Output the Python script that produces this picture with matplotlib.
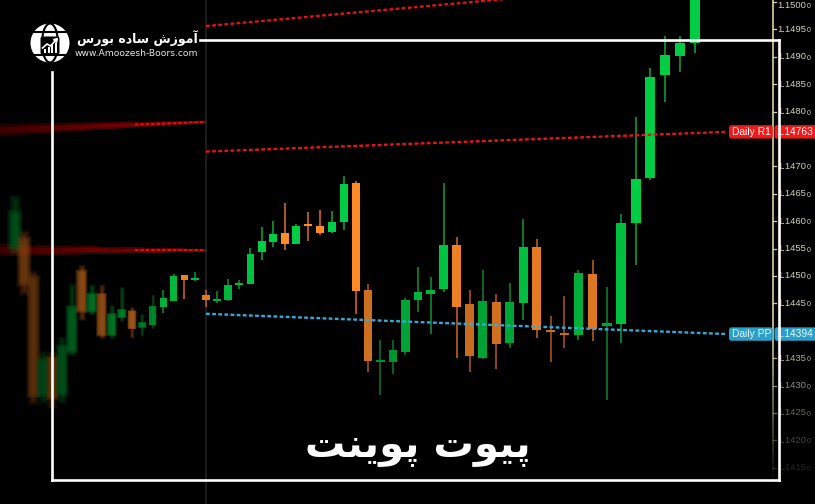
import numpy as np
import matplotlib
matplotlib.use("Agg")
import matplotlib.pyplot as plt
from matplotlib.patches import FancyBboxPatch, Circle, Ellipse, Rectangle, Polygon
from matplotlib.lines import Line2D
from matplotlib.collections import LineCollection
from matplotlib.transforms import Affine2D

# ---------------- data ----------------
candle_index = list(range(-19, 39))
opens = [1.14557, 1.14563, 1.14493, 1.14286, 1.14347, 1.14287, 1.14365, 1.14506, 1.14438, 1.14465,
         1.14394, 1.14426, 1.14435, 1.14407, 1.14411, 1.14444, 1.14455, 1.14501, 1.14493,
         1.14466, 1.14455, 1.14456, 1.14484, 1.14486, 1.14543, 1.14562, 1.14578, 1.14559, 1.14595,
         1.14592, 1.14580, 1.14599, 1.14669, 1.14474, 1.14344, 1.14343, 1.14361, 1.14456, 1.14468,
         1.14476, 1.14557, 1.14448, 1.14351, 1.14452, 1.14377, 1.14450, 1.14553, 1.14401, 1.14396,
         1.14393, 1.14504, 1.14409, 1.14412, 1.14597, 1.14678, 1.14867, 1.14902, 1.14925]
highs = [1.14639, 1.14575, 1.14502, 1.14356, 1.14356, 1.14383, 1.14480, 1.14515, 1.14480, 1.14480,
         1.14444, 1.14477, 1.14441, 1.14429, 1.14464, 1.14474, 1.14503, 1.14502, 1.14508,
         1.14474, 1.14473, 1.14495, 1.14493, 1.14551, 1.14589, 1.14601, 1.14633, 1.14595, 1.14617,
         1.14620, 1.14618, 1.14682, 1.14674, 1.14485, 1.14384, 1.14383, 1.14460, 1.14517, 1.14498,
         1.14670, 1.14571, 1.14474, 1.14511, 1.14468, 1.14487, 1.14604, 1.14567, 1.14427, 1.14463,
         1.14510, 1.14529, 1.14480, 1.14614, 1.14791, 1.14879, 1.14937, 1.14938, 1.15040]
lows = [1.14547, 1.14474, 1.14274, 1.14274, 1.14265, 1.14274, 1.14360, 1.14424, 1.14433, 1.14389,
        1.14389, 1.14420, 1.14389, 1.14392, 1.14405, 1.14432, 1.14454, 1.14458, 1.14490,
        1.14444, 1.14451, 1.14455, 1.14476, 1.14485, 1.14529, 1.14553, 1.14547, 1.14558, 1.14564,
        1.14575, 1.14579, 1.14583, 1.14430, 1.14325, 1.14283, 1.14322, 1.14356, 1.14435, 1.14395,
        1.14471, 1.14350, 1.14325, 1.14348, 1.14331, 1.14368, 1.14420, 1.14387, 1.14343, 1.14368,
        1.14383, 1.14382, 1.14274, 1.14378, 1.14520, 1.14675, 1.14818, 1.14873, 1.14906]
closes = [1.14611, 1.14490, 1.14286, 1.14344, 1.14280, 1.14369, 1.14441, 1.14438, 1.14465, 1.14394,
          1.14429, 1.14437, 1.14405, 1.14414, 1.14444, 1.14459, 1.14500, 1.14492, 1.14497,
          1.14456, 1.14457, 1.14484, 1.14486, 1.14541, 1.14563, 1.14576, 1.14559, 1.14592, 1.14591,
          1.14579, 1.14598, 1.14667, 1.14472, 1.14345, 1.14346, 1.14365, 1.14457, 1.14471, 1.14474,
          1.14557, 1.14444, 1.14354, 1.14454, 1.14376, 1.14453, 1.14553, 1.14401, 1.14397, 1.14392,
          1.14506, 1.14403, 1.14415, 1.14596, 1.14677, 1.14864, 1.14903, 1.14926, 1.15031]

tick_values = [1.1500, 1.1495, 1.1490, 1.1485, 1.1480, 1.1475, 1.1470, 1.1465, 1.1460,
               1.1455, 1.1450, 1.1445, 1.1440, 1.1435, 1.1430, 1.1425, 1.1420, 1.1415]

# pivot levels (price at day start, price at right end - perspective view)
r2_level = [1.14956, 1.15042]
r1_level = [1.14727, 1.14763]
pp_level = [1.14431, 1.14394]
prev_upper_level = [1.14766, 1.14781]
prev_lower_level = [1.14547, 1.14547]
r1_label = ["Daily R1", "1.14763"]
pp_label = ["Daily PP", "1.14394"]

title_text = "\uFE96\uFEE8\uFBFE\uFEEE\uFB58 \uFE95\uFEEE\uFBFF\uFB58"          # پیوت پوینت
logo_text = "\uFEB1\uFEAD\uFEEE\uFE91 \uFEE9\uFEA9\uFE8E\uFEB3 \uFEB5\uFEAF\uFEEE\uFEE3\uFE81"  # آموزش ساده بورس
logo_url = "www.Amoozesh-Boors.com"

# ---------------- figure ----------------
W, H = 815, 504
fig = plt.figure(figsize=(W / 100, H / 100), dpi=100, facecolor="black")
ax = fig.add_axes([0, 0, 1, 1], facecolor="black")
ax.axis("off")

K = 0.0085
PX0, S0 = 206.0, 10.9


def fwd(i):
    return np.expm1(K * np.asarray(i, dtype=float)) / K


def inv(f):
    with np.errstate(invalid="ignore", divide="ignore"):
        return np.log1p(K * np.asarray(f, dtype=float)) / K


def i_of_px(px):
    return float(inv((px - PX0) / S0))


ax.set_xscale("function", functions=(fwd, inv))
ax.set_xlim(i_of_px(0), i_of_px(W))
YTOP = 1.150036
PPX = 0.000018248
ax.set_ylim(YTOP - H * PPX, YTOP)

PX = Affine2D().scale(1 / 100, -1 / 100).translate(0, H / 100) + fig.dpi_scale_trans


def y_of_price(p):
    return (YTOP - p) / PPX


ax.axvline(0, color="#1e1e1e", lw=1.3, zorder=1)

GREEN = np.array([0, 204, 68]) / 255
ORANGE = np.array([255, 138, 40]) / 255
GWICK = np.array([20, 165, 60]) / 255
OWICK = np.array([225, 112, 40]) / 255
MINB = 2.2 * PPX
BW = 0.68


def draw_candle(i, o, h, l, c):
    up = c >= o
    mid = (o + c) / 2
    bright = float(np.clip(0.72 + (mid - 1.1435) / 0.002 * 0.28, 0.72, 1.0))
    col = (GREEN if up else ORANGE) * bright
    wcol = (GWICK if up else OWICK) * bright
    lo_b, hi_b = min(o, c), max(o, c)
    if hi_b - lo_b < MINB:
        m = (hi_b + lo_b) / 2
        lo_b, hi_b = m - MINB / 2, m + MINB / 2
    blur = max(0, -i - 3) * 0.36
    dim = 1 - max(0, -i - 3) * 0.03
    if blur < 0.6:
        ax.vlines(i, l, h, color=wcol, lw=1.1, zorder=3)
        ax.bar(i, hi_b - lo_b, bottom=lo_b, width=BW, color=col, edgecolor="none", zorder=4)
    else:
        L = 8
        for j in range(L):
            e = blur * j / (L - 1)
            ei = e / 10.0
            ep = e * PPX
            a = 0.19 * dim
            ax.vlines(i, l - ep, h + ep, color=wcol, lw=(1.4 + 2 * e) * 0.72, alpha=a * 0.45, zorder=3)
            ax.bar(i, hi_b - lo_b + 2 * ep, bottom=lo_b - ep, width=BW * 0.9 + 2 * ei,
                   color=col * dim, alpha=a, edgecolor="none", zorder=4)


for i, o, h, l, c in zip(candle_index, opens, highs, lows, closes):
    draw_candle(i, o, h, l, c)

DOTS = (0, (1.6, 1.0))
i_end = i_of_px(727)

ax.plot([0, i_end], r2_level, color="#e01212", lw=1.7, ls=DOTS, zorder=5)
ax.plot([0, i_end], r1_level, color="#e81414", lw=1.7, ls=DOTS, zorder=5)
ax.plot([0, i_end], pp_level, color="#38a8d8", lw=1.7, ls=DOTS, zorder=5)


def blurred_line(levels):
    i0, i1 = i_of_px(0), 0.0
    xs_px = np.linspace(0, 205, 42)
    xs = [i_of_px(x) for x in xs_px]
    ps = np.interp(xs, [i0, i1], levels)
    for scale, inten in [(1.0, 0.5), (0.5, 0.8)]:
        segs, lws, cols = [], [], []
        for k in range(len(xs) - 1):
            t = xs_px[k] / 205
            segs.append([(xs[k], ps[k]), (xs[k + 1], ps[k + 1])])
            lws.append((12 * (1 - t) + 2.5 * t) * scale * 0.72)
            r = (0.30 + 0.45 * t) * inten
            cols.append((r, 0, 0, 1.0))
        ax.add_collection(LineCollection(segs, linewidths=lws, colors=cols, zorder=2, capstyle="butt"))
    ax.plot([i_of_px(135), 0], np.interp([i_of_px(135), 0], [i0, i1], levels),
            color="#d81010", lw=1.5, ls=DOTS, zorder=5)


blurred_line(prev_upper_level)
blurred_line(prev_lower_level)

# ---------------- right price axis ----------------
AX_X = 773
ys = np.linspace(0, H, 60)
segs, cols = [], []
for k in range(len(ys) - 1):
    y = ys[k]
    a = 1.0 if y < 330 else max(0.0, 1 - (y - 330) / 150)
    segs.append([(AX_X, ys[k]), (AX_X, ys[k + 1])])
    cols.append((0.76, 0.76, 0.6, a))
ax.add_collection(LineCollection(segs, colors=cols, linewidths=1.3, transform=PX, zorder=6))

box_ys = [y_of_price(r1_level[1]), y_of_price(pp_level[1])]
for v in tick_values:
    y = y_of_price(v)
    if min(abs(y - b) for b in box_ys) < 9:
        continue
    a = 1.0 if y < 330 else max(0.1, 1 - (y - 330) / 150 * 0.9)
    colr = (0.82, 0.82, 0.74, a)
    yt = max(y, 5.5)
    ax.add_line(Line2D([AX_X, AX_X + 3], [y, y], transform=PX, color=colr, lw=0.9, zorder=6))
    ax.text(777, yt, f"{v:.4f}", transform=PX, fontsize=6.8, family="Liberation Sans",
            color=colr, ha="left", va="center", zorder=6)
    ax.text(806.5, yt + 1.5, "0", transform=PX, fontsize=5.0, family="Liberation Sans",
            color=colr, ha="left", va="center", zorder=6)


def level_box(y, texts, fc, tc):
    ax.add_patch(FancyBboxPatch((729, y - 6.7), 43.7, 13.4, boxstyle="round,pad=0,rounding_size=2.5",
                                transform=PX, fc=fc, ec="none", zorder=8))
    ax.add_patch(FancyBboxPatch((774.5, y - 6.7), 45, 13.4, boxstyle="round,pad=0,rounding_size=2.5",
                                transform=PX, fc=fc, ec="none", zorder=8))
    ax.text(731.5, y + 0.3, texts[0], transform=PX, fontsize=7.4, family="Liberation Sans",
            color=tc, ha="left", va="center", zorder=9)
    ax.text(776.5, y + 0.3, texts[1], transform=PX, fontsize=7.4, family="Liberation Sans",
            color=tc, ha="left", va="center", zorder=9)


level_box(box_ys[0], r1_label, "#f01818", "white")
level_box(box_ys[1], pp_label, "#2aa0c8", "#e2f4fb")

# ---------------- frame ----------------
frame = [((200, 40), (779, 40)), ((779, 40), (779, 480)), ((779, 480), (52, 480)), ((52, 480), (52, 72))]
for (x0, y0), (x1, y1) in frame:
    ax.add_line(Line2D([x0, x1], [y0, y1], transform=PX, color="white", lw=1.9,
                       solid_capstyle="projecting", zorder=10))

# ---------------- logo ----------------
cx, cy, r = 50, 43, 19.5
ax.add_patch(Circle((cx, cy), r, transform=PX, fc="white", ec="none", zorder=11))
ax.add_patch(Ellipse((cx, cy), 16, 2 * r, transform=PX, fill=False, ec="black", lw=1.5, zorder=12))
for yy in (31.5, 54.5):
    dx = np.sqrt(r ** 2 - (yy - cy) ** 2)
    ax.add_line(Line2D([cx - dx, cx + dx], [yy, yy], transform=PX, color="black", lw=1.5, zorder=12))
ax.add_patch(FancyBboxPatch((40.5, 36.5), 19, 18, boxstyle="round,pad=0,rounding_size=2",
                            transform=PX, fc="black", ec="none", zorder=13))
for bx, bh in [(44, 4), (47.5, 6), (51, 8), (54.5, 10)]:
    ax.add_patch(Rectangle((bx, 53 - bh), 2.2, bh, transform=PX, fc="white", ec="none", zorder=14))
ax.add_line(Line2D([42.5, 47, 50.5, 56], [48, 44, 46, 40], transform=PX, color="white", lw=1.2, zorder=14))
ax.add_patch(Polygon([(57.5, 38.5), (53.5, 39.5), (56.5, 42.5)], closed=True, transform=PX,
                     fc="white", ec="white", zorder=14))

ax.text(137, 38.5, logo_text, transform=PX, fontsize=9.0, family="DejaVu Sans", weight="bold",
        color="white", ha="center", va="center", zorder=11)
ax.text(136.5, 54, logo_url, transform=PX, fontsize=6.6, family="DejaVu Sans",
        color="#e6e6e6", ha="center", va="center", zorder=11)

# ---------------- title ----------------
ax.text(418, 446, title_text, transform=PX, fontsize=29, family="DejaVu Sans", weight="bold",
        color="white", ha="center", va="center", zorder=11)

fig.savefig("out.png", dpi=100, facecolor="black")
